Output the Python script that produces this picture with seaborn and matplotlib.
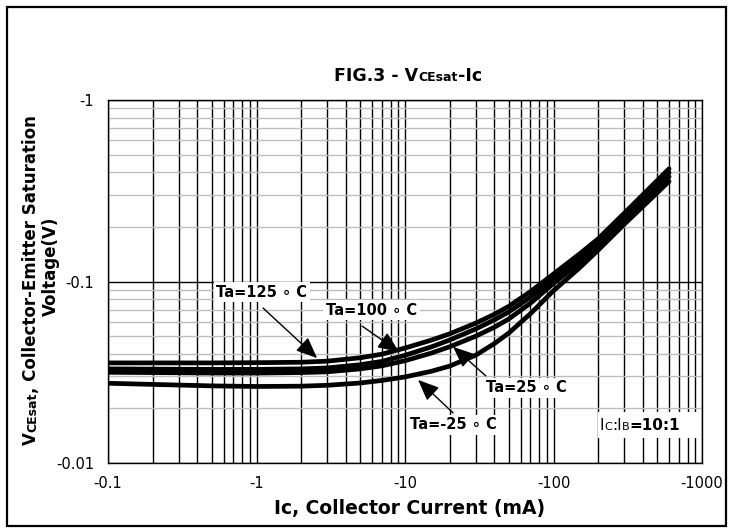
import numpy as np
import pandas as pd
import matplotlib
matplotlib.use("Agg")
import matplotlib.pyplot as plt
import seaborn as sns
from matplotlib.ticker import FixedLocator, FixedFormatter, NullFormatter
from matplotlib.patches import Rectangle

# ---------------- data ----------------
ic_ma = [0.1, 0.2, 0.5, 1, 2, 3, 5, 7, 10, 15, 20, 30, 40, 50, 70, 100, 150, 200, 300, 600]
vce_125 = [0.0356, 0.0356, 0.0356, 0.0357, 0.0359, 0.0364, 0.0380, 0.0398, 0.0430, 0.0475,
           0.0515, 0.0590, 0.0660, 0.0730, 0.0880, 0.110, 0.142, 0.172, 0.238, 0.418]
vce_100 = [0.0330, 0.0329, 0.0328, 0.0328, 0.0330, 0.0334, 0.0348, 0.0363, 0.0392, 0.0436,
           0.0476, 0.0548, 0.0615, 0.0680, 0.0820, 0.104, 0.134, 0.164, 0.226, 0.398]
vce_25 = [0.0316, 0.0315, 0.0313, 0.0313, 0.0315, 0.0318, 0.0330, 0.0343, 0.0366, 0.0403,
          0.0437, 0.0500, 0.0560, 0.0622, 0.0760, 0.0975, 0.127, 0.157, 0.217, 0.378]
vce_m25 = [0.0275, 0.0271, 0.0266, 0.0264, 0.0265, 0.0268, 0.0276, 0.0285, 0.0298, 0.0320,
           0.0342, 0.0393, 0.0455, 0.0520, 0.0665, 0.0890, 0.119, 0.149, 0.207, 0.356]
temps = ["125", "100", "25", "-25"]

x_ticks = [0.1, 1, 10, 100, 1000]
x_tick_labels = ["-0.1", "-1", "-10", "-100", "-1000"]
y_ticks = [0.01, 0.1, 1]
y_tick_labels = ["-0.01", "-0.1", "-1"]

label_texts = ["Ta=125 ∘ C", "Ta=100 ∘ C", "Ta=25 ∘ C", "Ta=-25 ∘ C"]

# ---------------- figure ----------------
W, H = 732, 530
sns.set_theme(style="white")
plt.rcParams["font.family"] = ["DejaVu Sans"]
plt.rcParams["axes.linewidth"] = 1.0

fig = plt.figure(figsize=(W / 100, H / 100), dpi=100)
fig.patch.set_facecolor("white")
ax = fig.add_axes([108 / W, 1 - 463 / H, 594 / W, 363 / H])

rows = []
for t, vals in zip(temps, [vce_125, vce_100, vce_25, vce_m25]):
    for x, v in zip(ic_ma, vals):
        rows.append({"Ic": x, "Vce": v, "Ta": t})
df = pd.DataFrame(rows)

sns.lineplot(data=df, x="Ic", y="Vce", hue="Ta", hue_order=temps,
             palette={t: "black" for t in temps}, linewidth=3.4,
             legend=False, estimator=None, ax=ax, zorder=4)

ax.set_xscale("log")
ax.set_yscale("log")
ax.set_xlim(x_ticks[0], x_ticks[-1])
ax.set_ylim(y_ticks[0], y_ticks[-1])

minor_x = [m * 10.0 ** e for e in range(-1, 3) for m in range(2, 10)]
minor_y = [m * 10.0 ** e for e in range(-2, 0) for m in range(2, 10)]
ax.xaxis.set_major_locator(FixedLocator(x_ticks))
ax.xaxis.set_major_formatter(FixedFormatter(x_tick_labels))
ax.xaxis.set_minor_locator(FixedLocator(minor_x))
ax.xaxis.set_minor_formatter(NullFormatter())
ax.yaxis.set_major_locator(FixedLocator(y_ticks))
ax.yaxis.set_major_formatter(FixedFormatter(y_tick_labels))
ax.yaxis.set_minor_locator(FixedLocator(minor_y))
ax.yaxis.set_minor_formatter(NullFormatter())

ax.grid(which="major", axis="x", color="black", linewidth=1.0)
ax.grid(which="minor", axis="x", color="black", linewidth=1.0)
ax.grid(which="major", axis="y", color="black", linewidth=1.0)
ax.grid(which="minor", axis="y", color="#bdbdbd", linewidth=1.0)
ax.set_axisbelow(True)
for s in ax.spines.values():
    s.set_color("black")
    s.set_linewidth(1.0)

ax.tick_params(axis="both", which="both", length=0, labelsize=10.5,
               labelcolor="black")
ax.tick_params(axis="x", pad=9)
ax.tick_params(axis="y", pad=10)
ax.set_xlabel("")
ax.set_ylabel("")

# ---------------- annotations ----------------
label_pos = [(0.259, 0.471), (0.444, 0.421), (0.704, 0.207), (0.582, 0.105)]
arrow_start = [(0.261, 0.427), (0.428, 0.377), (0.636, 0.240), (0.581, 0.138)]
arrow_tip = [(0.352, 0.289), (0.490, 0.306), (0.581, 0.320), (0.522, 0.229)]

for txt, (lx, ly), st, tp in zip(label_texts, label_pos, arrow_start, arrow_tip):
    ax.text(lx, ly, txt, transform=ax.transAxes, ha="center", va="center",
            fontsize=10.5, fontweight="bold", color="black", zorder=6,
            bbox=dict(facecolor="white", edgecolor="none", pad=2.0))
    ax.annotate("", xy=tp, xytext=st, xycoords="axes fraction",
                textcoords="axes fraction", zorder=7,
                arrowprops=dict(arrowstyle="-|>,head_length=1.3,head_width=0.55",
                                color="black", lw=1.0, shrinkA=0, shrinkB=0,
                                mutation_scale=10))

fig.canvas.draw()
renderer = fig.canvas.get_renderer()


def rich(pieces, x, y, rotation=0):
    """Draw text pieces in sequence, centred at (x, y) display px (baseline)."""
    ts, ws = [], []
    for s, kw in pieces:
        t = fig.text(0, 0, s, ha="left", va="baseline", rotation=0,
                     rotation_mode="anchor", color="black", **kw)
        ws.append(t.get_window_extent(renderer).width)
        ts.append(t)
    total = sum(ws)
    a = np.deg2rad(rotation)
    off = -total / 2
    for t, w in zip(ts, ws):
        t.set_position(((x + off * np.cos(a)) / W, (y + off * np.sin(a)) / H))
        t.set_rotation(rotation)
        off += w
    return ts, total


big = dict(fontsize=12.5, fontweight="bold")
small = dict(fontsize=9, fontweight="bold")

# title
rich([("FIG.3 - V", big), ("CEsat", small), ("-Ic", big)], 408, H - 81)

# x label
fig.text(410 / W, 1 - 514 / H, "Ic, Collector Current (mA)", ha="center",
         va="baseline", fontsize=13.5, fontweight="bold", color="black")

# y label (two lines, rotated)
ybig = dict(fontsize=12, fontweight="bold")
ysmall = dict(fontsize=9, fontweight="bold")
rich([("V", ybig), ("CEsat", ysmall), (", Collector-Emitter Saturation", ybig)],
     36, H - 280, rotation=90)
rich([("Voltage(V)", ybig)], 56, H - 266, rotation=90)

# Ic:IB label with white box
ibx, iby = 640, 430
box = Rectangle(((ibx - 42) / W, 1 - 438 / H), 100 / W, 26 / H,
                transform=fig.transFigure, facecolor="white", edgecolor="none",
                zorder=2.5)
fig.patches.append(box)
rb = dict(fontsize=11, fontweight="normal")
rs = dict(fontsize=8, fontweight="normal")
bb = dict(fontsize=11, fontweight="bold")
rich([("I", rb), ("C", rs), (":I", rb), ("B", rs), ("=10:1", bb)], ibx, H - iby)

# outer border
border = Rectangle((7 / W, 4 / H), 719 / W, 519 / H, transform=fig.transFigure,
                   facecolor="none", edgecolor="black", linewidth=1.6, zorder=10)
fig.patches.append(border)

fig.savefig("out.png", dpi=100, facecolor="white")
